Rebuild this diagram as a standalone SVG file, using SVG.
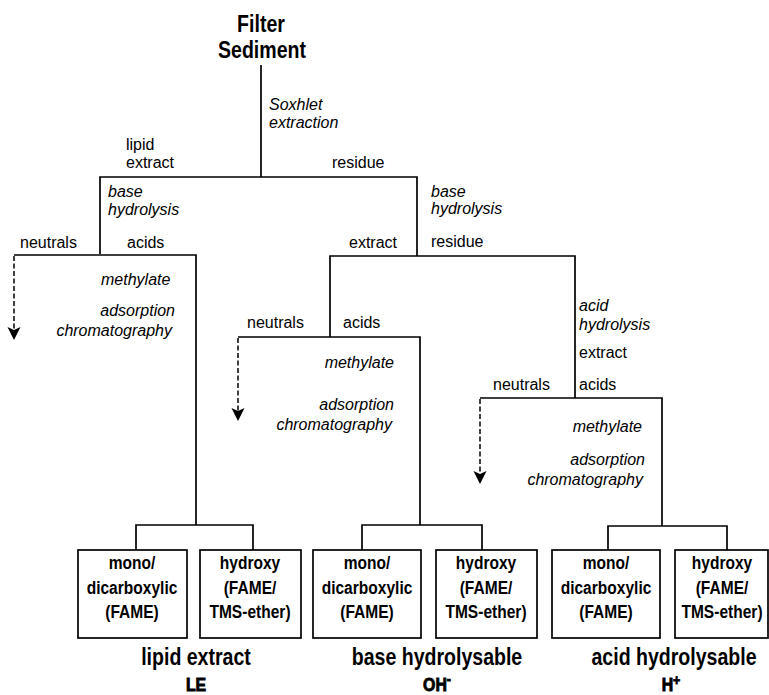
<svg xmlns="http://www.w3.org/2000/svg" width="769" height="695" viewBox="0 0 769 695">
<style>
text{font-family:"Liberation Sans",Arial,sans-serif;fill:#000}
.r{font-size:16px}
.i{font-size:16px;font-style:italic}
.b{font-size:18.5px;font-weight:bold;text-anchor:middle}
.t{font-size:23px;font-weight:bold;text-anchor:middle}
.k{font-size:18px;font-weight:bold;text-anchor:middle;stroke:#000;stroke-width:0.9}
.e{text-anchor:end}
.ln{fill:none;stroke:#000;stroke-width:1.7}
.ds{fill:none;stroke:#000;stroke-width:1.5;stroke-dasharray:5 2.5}
.bx{fill:#fff;stroke:#000;stroke-width:1.7}
</style>
<g id="connectors">
<polyline class="ln" points="261,65 261,177"/>
<polyline class="ln" points="100,254 100,177 417,177 417,256"/>
<polyline class="ln" points="14,255 196,255 196,525"/>
<polyline class="ln" points="330,337 330,256 575,256 575,398"/>
<polyline class="ln" points="238,337 420,337 420,525"/>
<polyline class="ln" points="480,398 662,398 662,526"/>
<polyline class="ln" points="136,550 136,525 253,525 253,550"/>
<polyline class="ln" points="362,550 362,525 482,525 482,550"/>
<polyline class="ln" points="608,550 608,526 727,526 727,550"/>
<line class="ds" x1="14" y1="256" x2="14" y2="334"/>
<path d="M7.5,327 L14,330 L20.5,327 L14,340 Z" fill="#000"/>
<line class="ds" x1="238" y1="338" x2="238" y2="415"/>
<path d="M231.5,408 L238,411 L244.5,408 L238,421 Z" fill="#000"/>
<line class="ds" x1="480" y1="399" x2="480" y2="478"/>
<path d="M473.5,471 L480,474 L486.5,471 L480,484 Z" fill="#000"/>
</g>
<g id="source">
<text class="t" transform="translate(261,32) scale(0.85,1)">Filter</text>
<text class="t" transform="translate(262,58) scale(0.85,1)">Sediment</text>
</g>
<g id="labels">
<text class="i" x="269" y="110">Soxhlet</text>
<text class="i" x="269" y="128">extraction</text>
<text class="r" x="126" y="150">lipid</text>
<text class="r" x="126" y="168">extract</text>
<text class="r" x="332" y="168">residue</text>
<text class="i" x="108" y="197">base</text>
<text class="i" x="108" y="215">hydrolysis</text>
<text class="i" x="431" y="197">base</text>
<text class="i" x="431" y="214">hydrolysis</text>
<text class="r" x="20" y="248">neutrals</text>
<text class="r" x="127" y="248">acids</text>
<text class="r" x="349" y="248">extract</text>
<text class="r" x="431" y="247">residue</text>
<text class="i" x="101" y="285">methylate</text>
<text class="i e" x="175" y="316">adsorption</text>
<text class="i e" x="172" y="336">chromatography</text>
<text class="r" x="247" y="328">neutrals</text>
<text class="r" x="343" y="328">acids</text>
<text class="i e" x="394" y="368">methylate</text>
<text class="i e" x="394" y="410">adsorption</text>
<text class="i e" x="392" y="430">chromatography</text>
<text class="i" x="579" y="311">acid</text>
<text class="i" x="579" y="330">hydrolysis</text>
<text class="r" x="579" y="358">extract</text>
<text class="r" x="579" y="390">acids</text>
<text class="r" x="493" y="390">neutrals</text>
<text class="i e" x="642" y="432">methylate</text>
<text class="i e" x="645" y="465">adsorption</text>
<text class="i e" x="643" y="485">chromatography</text>
</g>
<g id="le-mono">
<rect class="bx" x="78" y="550" width="109" height="88"/>
<text class="b" transform="translate(132,569) scale(0.84,1)">mono/</text>
<text class="b" transform="translate(132,594) scale(0.84,1)">dicarboxylic</text>
<text class="b" transform="translate(132,618) scale(0.84,1)">(FAME)</text>
</g>
<g id="le-hydroxy">
<rect class="bx" x="200" y="550" width="101" height="88"/>
<text class="b" transform="translate(250,569) scale(0.84,1)">hydroxy</text>
<text class="b" transform="translate(250,594) scale(0.84,1)">(FAME/</text>
<text class="b" transform="translate(250,618) scale(0.84,1)">TMS-ether)</text>
</g>
<g id="oh-mono">
<rect class="bx" x="313" y="550" width="108" height="88"/>
<text class="b" transform="translate(367,569) scale(0.84,1)">mono/</text>
<text class="b" transform="translate(367,594) scale(0.84,1)">dicarboxylic</text>
<text class="b" transform="translate(367,618) scale(0.84,1)">(FAME)</text>
</g>
<g id="oh-hydroxy">
<rect class="bx" x="436" y="550" width="101" height="88"/>
<text class="b" transform="translate(486,569) scale(0.84,1)">hydroxy</text>
<text class="b" transform="translate(486,594) scale(0.84,1)">(FAME/</text>
<text class="b" transform="translate(486,618) scale(0.84,1)">TMS-ether)</text>
</g>
<g id="h-mono">
<rect class="bx" x="552" y="550" width="108" height="88"/>
<text class="b" transform="translate(606,569) scale(0.84,1)">mono/</text>
<text class="b" transform="translate(606,594) scale(0.84,1)">dicarboxylic</text>
<text class="b" transform="translate(606,618) scale(0.84,1)">(FAME)</text>
</g>
<g id="h-hydroxy">
<rect class="bx" x="675" y="550" width="93" height="88"/>
<text class="b" transform="translate(722,569) scale(0.84,1)">hydroxy</text>
<text class="b" transform="translate(722,594) scale(0.84,1)">(FAME/</text>
<text class="b" transform="translate(722,618) scale(0.84,1)">TMS-ether)</text>
</g>
<g id="titles">
<text class="t" transform="translate(196,665) scale(0.85,1)">lipid extract</text>
<text class="k" transform="translate(196,691) scale(0.88,1)">LE</text>
<text class="t" transform="translate(437,665) scale(0.85,1)">base hydrolysable</text>
<text class="k" transform="translate(437,691) scale(0.88,1)">OH<tspan font-size="14" dy="-7">-</tspan></text>
<text class="t" transform="translate(674,665) scale(0.85,1)">acid hydrolysable</text>
<text class="k" transform="translate(671,691) scale(0.88,1)">H<tspan font-size="14" dy="-6">+</tspan></text>
</g>
</svg>
